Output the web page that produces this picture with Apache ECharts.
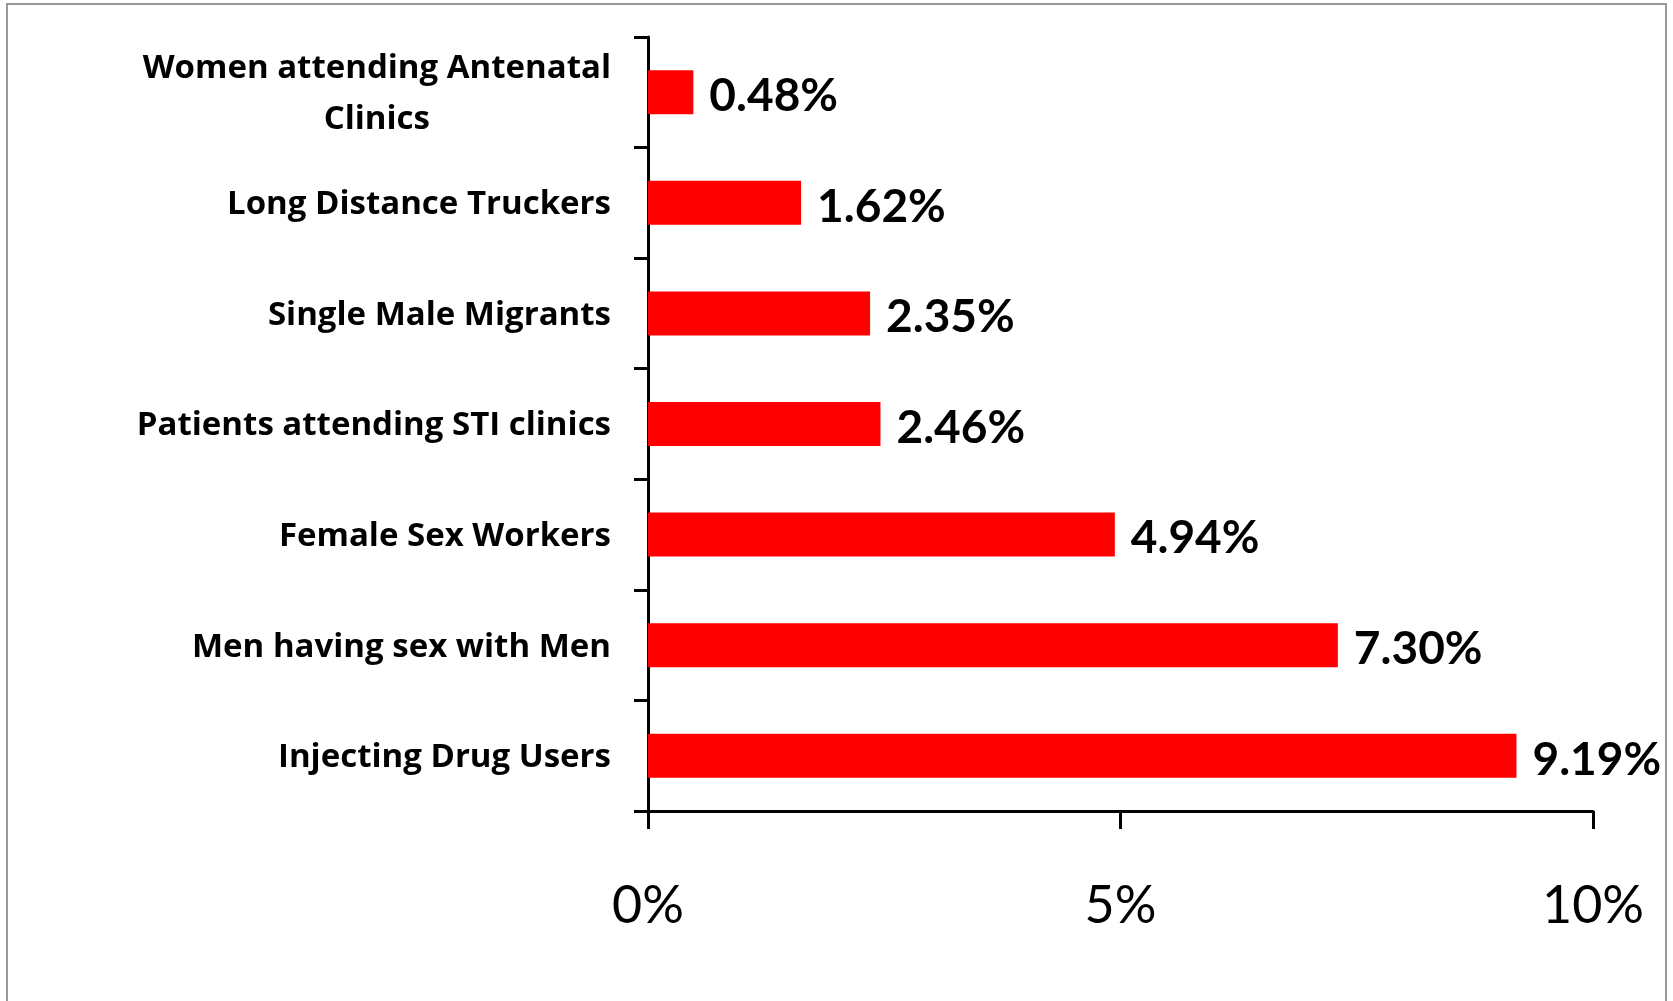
<!DOCTYPE html>
<html>
<head>
<meta charset="utf-8">
<script src="https://cdn.jsdelivr.net/npm/echarts@6/dist/echarts.min.js"></script>
<style>
html,body{margin:0;padding:0;background:#fff;}
#chart{width:1673px;height:1001px;}
</style>
</head>
<body>
<div id="chart"></div>
<script>
const categories = [
  "Women attending Antenatal\nClinics",
  "Long Distance Truckers",
  "Single Male Migrants",
  "Patients attending STI clinics",
  "Female Sex Workers",
  "Men having sex with Men",
  "Injecting Drug Users"
];
const prevalence = [0.48, 1.62, 2.35, 2.46, 4.94, 7.30, 9.19];
const xTicks = [0, 5, 10];

const chart = echarts.init(document.getElementById('chart'));
const labelFont = { fontFamily: 'Open Sans', fontWeight: 'bold', fontSize: 33, color: '#000' };
chart.setOption({
  animation: false,
  backgroundColor: '#fff',
  graphic: [{
    type: 'rect',
    shape: { x: 7, y: 4, width: 1659, height: 1020 },
    style: { fill: 'none', stroke: '#999', lineWidth: 2 },
    silent: true
  }],
  grid: { left: 648, right: 80, top: 37, bottom: 190, containLabel: false },
  xAxis: {
    type: 'value',
    min: xTicks[0],
    max: xTicks[xTicks.length - 1],
    interval: 5,
    splitLine: { show: false },
    axisLine: { show: true, lineStyle: { color: '#000', width: 3 } },
    axisTick: { show: true, length: 18, lineStyle: { color: '#000', width: 3 } },
    axisLabel: {
      formatter: '{value}%',
      margin: 69,
      fontFamily: 'Lato',
      fontSize: 52,
      color: '#000'
    }
  },
  yAxis: {
    type: 'category',
    inverse: true,
    data: categories,
    axisLine: { show: true, lineStyle: { color: '#000', width: 3 } },
    axisTick: { show: true, length: 14, lineStyle: { color: '#000', width: 3 } },
    axisLabel: {
      margin: 37,
      align: 'right',
      formatter: function (v) {
        return v.split('\n').map(s => '{c|' + s + '}').join('\n');
      },
      rich: {
        c: Object.assign({ align: 'center', lineHeight: 51, padding: [4, 0, 0, 0] }, labelFont)
      }
    }
  },
  series: [{
    type: 'bar',
    data: prevalence,
    barWidth: 44,
    itemStyle: { color: '#FF0000' },
    label: {
      show: true,
      position: 'right',
      distance: 16,
      offset: [0, 4],
      formatter: p => p.value.toFixed(2) + '%',
      fontFamily: 'Lato',
      fontWeight: 'bold',
      fontSize: 46,
      color: '#000'
    }
  }]
});
</script>
</body>
</html>
